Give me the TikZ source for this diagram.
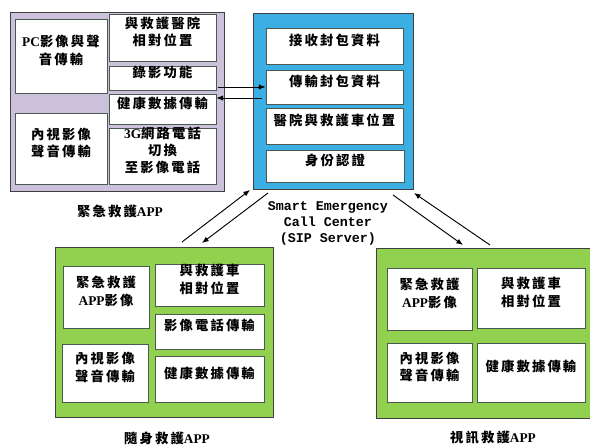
\documentclass[tikz,border=0pt]{standalone}
\usepackage{fontspec}
\newfontfamily\cjk{Noto Sans CJK TC}[LetterSpace=16]
\newfontfamily\latf{Liberation Serif}
\newfontfamily\monofnt{Liberation Mono}
\newcommand{\lt}[1]{{\latf\bfseries #1}}
\usetikzlibrary{fit,arrows.meta}
\definecolor{purp}{HTML}{CCC1DA}
\definecolor{bluef}{HTML}{3BAEE4}
\definecolor{greenf}{HTML}{92D050}
\definecolor{outl}{HTML}{404040}
\definecolor{innl}{HTML}{4A5A50}
\tikzset{
  outerbox/.style={draw=outl,line width=0.7pt,inner sep=0pt},
  innerbox/.style={draw=innl,fill=white,line width=0.6pt,inner sep=0pt,align=center,
    font=\cjk\bfseries\fontsize{10pt}{13pt}\selectfont},
  lbl/.style={font=\cjk\bfseries\fontsize{10pt}{13pt}\selectfont,inner sep=0pt},
  arr/.style={-{Latex[length=5pt,width=4pt]},line width=0.7pt,black}
}
\begin{document}
\begin{tikzpicture}[x=0.75pt,y=-0.75pt]
\useasboundingbox (0,0) rectangle (590,445);
% emergency APP (purple)
\node[outerbox,fill=purp,fit={(10,12) (224,191)}] (appA) {};
\node[innerbox,fit={(15,19) (107,93)}] (pc) {\lt{PC}影像與聲\\音傳輸};
\node[innerbox,fit={(15,113) (107,184)}] (nsA) {內視影像\\聲音傳輸};
\node[innerbox,fit={(109,14) (216,61)}] (hosp) {與救護醫院\\相對位置};
\node[innerbox,fit={(109,66) (216,90)}] (rec) {錄影功能};
\node[innerbox,fit={(109,94) (216,124)}] (healthA) {健康數據傳輸};
\node[innerbox,fit={(109,128) (216,184)}] (gthree) {\lt{3G}網路電話\\切換\\至影像電話};
\node[lbl] (labA) at (120,211) {緊急救護\lt{APP}};
% server (blue)
\node[outerbox,fill=bluef,fit={(253,13) (413,189)}] (srv) {};
\node[innerbox,fit={(266,28) (403,64)}] (rA) {接收封包資料};
\node[innerbox,fit={(266,70) (403,104)}] (rB) {傳輸封包資料};
\node[innerbox,fit={(266,108) (403,144)}] (rC) {醫院與救護車位置};
\node[innerbox,fit={(266,150) (404,182)}] (rD) {身份認證};
\node[font=\monofnt\bfseries\fontsize{10pt}{12pt}\selectfont,align=center,inner sep=0pt] (srvlab) at (328,223)
  {Smart Emergency\\Call Center\\(SIP Server)};
% body APP (green left)
\node[outerbox,fill=greenf,fit={(55,247) (273,417)}] (appB) {};
\node[innerbox,fit={(63,266) (149,328)}] (bA) {緊急救護\\\lt{APP}影像};
\node[innerbox,fit={(62,344) (148,402)}] (bB) {內視影像\\聲音傳輸};
\node[innerbox,fit={(155,264) (264,306)}] (bC) {與救護車\\相對位置};
\node[innerbox,fit={(155,314) (264,349)}] (bD) {影像電話傳輸};
\node[innerbox,fit={(155,356) (264,402)}] (bE) {健康數據傳輸};
\node[lbl] (labB) at (167,438) {隨身救護\lt{APP}};
% video APP (green right)
\node[outerbox,fill=greenf,fit={(376,248) (596,418)}] (appC) {};
\node[innerbox,fit={(387,268) (472,330)}] (cA) {緊急救護\\\lt{APP}影像};
\node[innerbox,fit={(477,268) (585,328)}] (cB) {與救護車\\相對位置};
\node[innerbox,fit={(387,343) (472,402)}] (cC) {內視影像\\聲音傳輸};
\node[innerbox,fit={(477,343) (585,402)}] (cD) {健康數據傳輸};
\node[lbl] (labC) at (493,438) {視訊救護\lt{APP}};
% connectors
\coordinate (h1s) at (218,87);
\coordinate (h1e) at (rB.west |- h1s);
\coordinate (h2s) at (262,98);
\coordinate (h2e) at (healthA.east |- h2s);
\draw[arr] (h1s) -- (h1e);
\draw[arr] (h2s) -- (h2e);
\coordinate (dAs) at (182,242);
\coordinate (dAe) at (250,190);
\coordinate (dBs) at (268,193);
\coordinate (dBe) at (202,243);
\coordinate (dCs) at (393,195);
\coordinate (dCe) at (463,245);
\coordinate (dDs) at (490,245);
\coordinate (dDe) at (414,193);
\draw[arr] (dAs) -- (dAe);
\draw[arr] (dBs) -- (dBe);
\draw[arr] (dCs) -- (dCe);
\draw[arr] (dDs) -- (dDe);
\end{tikzpicture}
\end{document}
